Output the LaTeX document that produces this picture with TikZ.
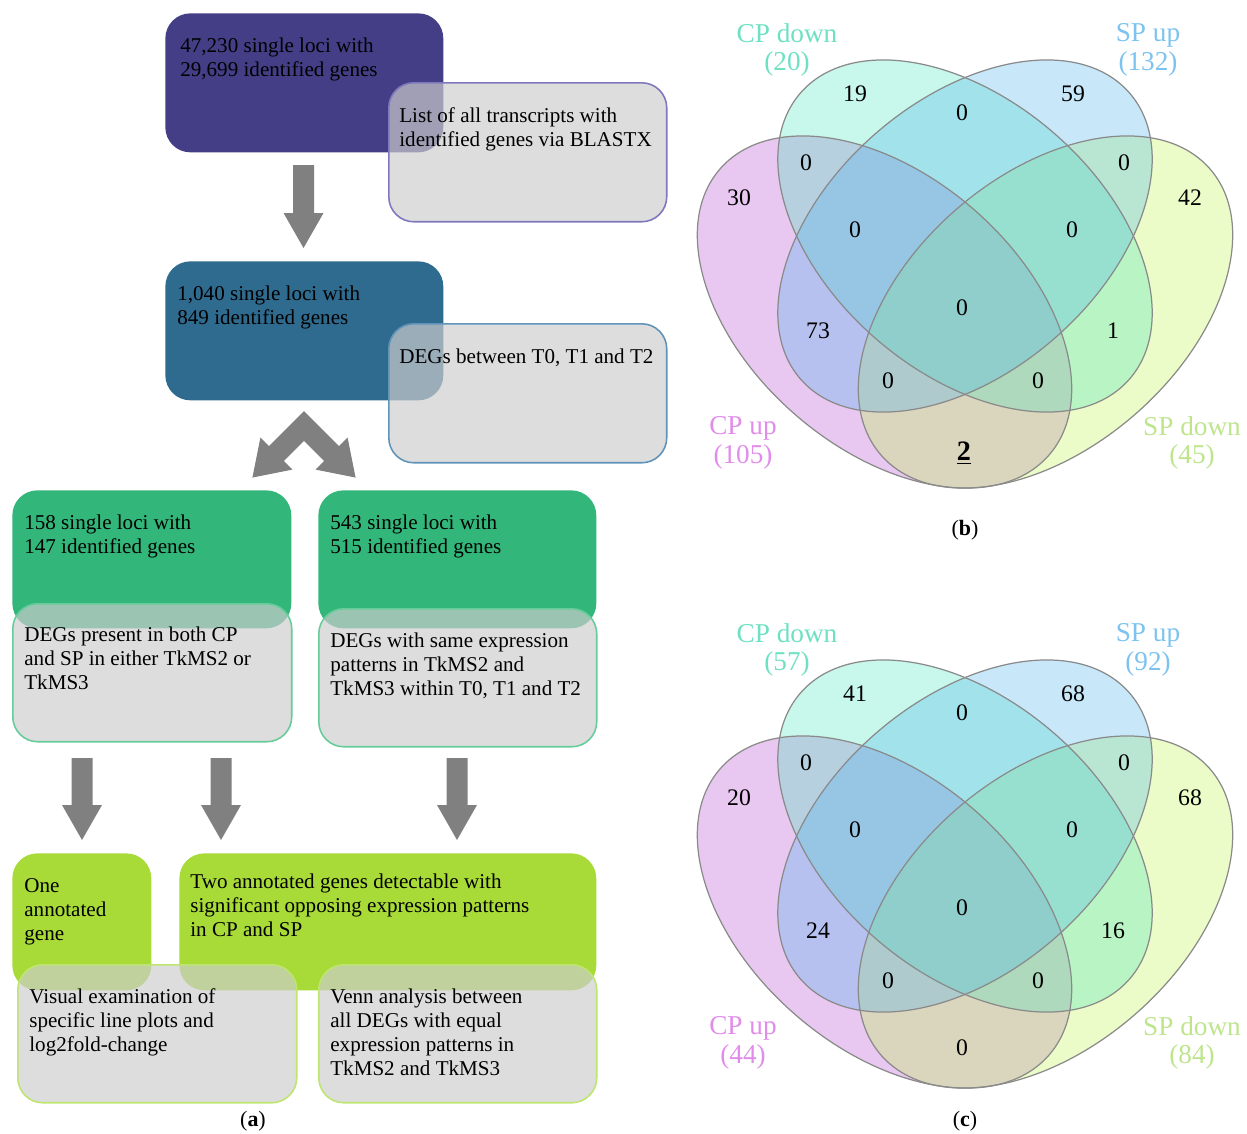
\documentclass[tikz,border=0pt]{standalone}
\usepackage{fontspec}
\setmainfont{Liberation Serif}
\definecolor{purpbox}{HTML}{433E85}
\definecolor{purpline}{HTML}{8078BE}
\definecolor{bluebox}{HTML}{2F6A8F}
\definecolor{blueline}{HTML}{6093B8}
\definecolor{greenbox}{HTML}{33B67A}
\definecolor{greenline}{HTML}{66CC9A}
\definecolor{limebox}{HTML}{A8DA38}
\definecolor{limeline}{HTML}{BDE570}
\definecolor{greyfill}{HTML}{CDCDCD}
\definecolor{arrowgrey}{HTML}{808080}
\definecolor{vmag}{RGB}{178,72,205}
\definecolor{vteal}{RGB}{72,228,188}
\definecolor{vblue}{RGB}{72,178,238}
\definecolor{vgreen}{RGB}{188,245,72}
\definecolor{vline}{HTML}{8A8A8A}
\definecolor{lteal}{HTML}{6EE1C3}
\definecolor{lblue}{HTML}{7DC3F0}
\definecolor{lmag}{HTML}{E18CEB}
\definecolor{lgreen}{HTML}{BEE48C}
\newcommand\blockdn[4]{% cx, top, head start, tip
  \fill[arrowgrey] ({#1-10.5},#2) -- ({#1+10.5},#2) -- ({#1+10.5},#3) -- ({#1+20},#3)
    -- (#1,#4) -- ({#1-20},#3) -- ({#1-10.5},#3) -- cycle;}
\newcommand\oneell[3]{% cx, cy, angle
  \begin{scope}[shift={(#1,#2)}, rotate=#3]
  \path[ellstyle] (0,0) ellipse [x radius=218, y radius=136];
  \end{scope}}
\begin{document}
\begin{tikzpicture}[x=0.02cm,y=-0.02cm,
  box/.style={rounded corners=0.5cm, inner sep=0pt, anchor=north west},
  colbox/.style={box, fill=#1},
  greybox/.style={box, fill=greyfill, fill opacity=0.68, draw=#1, line width=0.9pt},
  body/.style={anchor=base west, inner sep=0pt, font=\fontsize{12}{13.66}\selectfont},
  vnum/.style={inner sep=0pt, font=\fontsize{13.5}{15}\selectfont},
  vlab/.style={inner sep=0pt, align=center, font=\fontsize{15.5}{16.2}\selectfont},
  captxt/.style={inner sep=0pt, font=\fontsize{12.5}{14}\selectfont},
  ellstyle/.style={}]
\useasboundingbox (0,0) rectangle (1247,1133);

% ---------------- panel (a) ----------------
\node[colbox=purpbox, minimum width=5.56cm, minimum height=2.78cm] (b1) at (165,13) {};
\node[greybox=purpline, minimum width=5.56cm, minimum height=2.78cm] (b1g) at (388,82) {};
\node[colbox=bluebox, minimum width=5.56cm, minimum height=2.78cm] (b2) at (165,261) {};
\node[greybox=blueline, minimum width=5.56cm, minimum height=2.78cm] (b2g) at (388,323) {};
\node[colbox=greenbox, minimum width=5.58cm, minimum height=2.76cm] (b3L) at (12,490) {};
\node[greybox=greenline, minimum width=5.58cm, minimum height=2.76cm] (b3Lg) at (12,603) {};
\node[colbox=greenbox, minimum width=5.56cm, minimum height=2.76cm] (b3R) at (318,490) {};
\node[greybox=greenline, minimum width=5.56cm, minimum height=2.76cm] (b3Rg) at (318,608) {};
\node[colbox=limebox, minimum width=2.78cm, minimum height=2.74cm] (b4L) at (12,853) {};
\node[colbox=limebox, minimum width=8.34cm, minimum height=2.74cm] (b4R) at (179,853) {};
\node[greybox=limeline, minimum width=5.58cm, minimum height=2.76cm] (b4Lg) at (17,964) {};
\node[greybox=limeline, minimum width=5.56cm, minimum height=2.76cm] (b4Rg) at (318,964) {};

\node[body] (t1) at (180,52) {\parbox[t]{6cm}{47,230 single loci with\\29,699 identified genes}};
\node[body] (t1g) at (399,122) {\parbox[t]{6cm}{List of all transcripts with\\identified genes via BLASTX}};
\node[body] (t2) at (177,300) {\parbox[t]{6cm}{1,040 single loci with\\849 identified genes}};
\node[body] (t2g) at (399,363) {\parbox[t]{6cm}{DEGs between T0, T1 and T2}};
\node[body] (t3L) at (24,529) {\parbox[t]{6cm}{158 single loci with\\147 identified genes}};
\node[body] (t3Lg) at (24,641) {\parbox[t]{6cm}{DEGs present in both CP\\and SP in either TkMS2 or\\TkMS3}};
\node[body] (t3R) at (330,529) {\parbox[t]{6cm}{543 single loci with\\515 identified genes}};
\node[body] (t3Rg) at (330,647) {\parbox[t]{6cm}{DEGs with same expression\\patterns in TkMS2 and\\TkMS3 within T0, T1 and T2}};
\node[body] (t4L) at (24,892) {\parbox[t]{3cm}{One\\annotated\\gene}};
\node[body] (t4R) at (190,888) {\parbox[t]{9cm}{Two annotated genes detectable with\\significant opposing expression patterns\\in CP and SP}};
\node[body] (t4Lg) at (29,1003) {\parbox[t]{6cm}{Visual examination of\\specific line plots and\\log2fold-change}};
\node[body] (t4Rg) at (330,1003) {\parbox[t]{6cm}{Venn analysis between\\all DEGs with equal\\expression patterns in\\TkMS2 and TkMS3}};

% block arrows
\blockdn{303.5}{165}{213}{248}
\blockdn{82}{758}{805}{840}
\blockdn{221}{758}{805}{840}
\blockdn{457}{758}{805}{840}
\fill[arrowgrey] (304,411.2) -- (269,446.2) -- (260.4,437.6) -- (252.4,477.6) -- (292.4,469.6)
  -- (283.8,461) -- (304,440.8) -- (324.2,461) -- (315.6,469.6) -- (355.6,477.6)
  -- (347.6,437.6) -- (339,446.2) -- cycle;

\node[captxt] (capa) at (253,1121) {(\textbf{a})};

% ---------------- Venn diagrams ----------------
\foreach \dy in {0, 600}{
\begin{scope}[shift={(0,\dy)}]
  \tikzset{ellstyle/.style={fill=vmag, fill opacity=0.3}}
  \oneell{884.5}{312}{-41}
  \tikzset{ellstyle/.style={fill=vgreen, fill opacity=0.3}}
  \oneell{1045.5}{312}{41}
  \tikzset{ellstyle/.style={fill=vteal, fill opacity=0.3}}
  \oneell{965}{236}{-41}
  \tikzset{ellstyle/.style={fill=vblue, fill opacity=0.3}}
  \oneell{965}{236}{41}
  \tikzset{ellstyle/.style={draw=vline, line width=0.7pt}}
  \oneell{965}{236}{-41}
  \oneell{965}{236}{41}
  \oneell{884.5}{312}{-41}
  \oneell{1045.5}{312}{41}
\end{scope}}
\node[captxt] (capb) at (965,530) {(\textbf{b})};
\node[captxt] (capc) at (965,1121) {(\textbf{c})};

% labels and numbers (b)
\node[vlab, text=lteal] (bl1) at (787,50) {CP down\\(20)};
\node[vlab, text=lblue] (bl2) at (1148,50) {SP up\\(132)};
\node[vlab, text=lmag] (bl3) at (743,443) {CP up\\(105)};
\node[vlab, text=lgreen] (bl4) at (1192,443) {SP down\\(45)};
\node[vnum] (bn1) at (855,94) {19};
\node[vnum] (bn2) at (1073,94) {59};
\node[vnum] (bn3) at (962,113) {0};
\node[vnum] (bn4) at (806,163) {0};
\node[vnum] (bn5) at (1124,163) {0};
\node[vnum] (bn6) at (739,198) {30};
\node[vnum] (bn7) at (1190,198) {42};
\node[vnum] (bn8) at (855,230) {0};
\node[vnum] (bn9) at (1072,230) {0};
\node[vnum] (bn10) at (962,308) {0};
\node[vnum] (bn11) at (818,331) {73};
\node[vnum] (bn12) at (1113,331) {1};
\node[vnum] (bn13) at (888,381) {0};
\node[vnum] (bn14) at (1038,381) {0};
\node[vnum, font=\fontsize{16}{18}\selectfont\bfseries] (bn15) at (964,453) {\underline{2}};

% labels and numbers (c)
\node[vlab, text=lteal] (cl1) at (787,650) {CP down\\(57)};
\node[vlab, text=lblue] (cl2) at (1148,650) {SP up\\(92)};
\node[vlab, text=lmag] (cl3) at (743,1043) {CP up\\(44)};
\node[vlab, text=lgreen] (cl4) at (1192,1043) {SP down\\(84)};
\node[vnum] (cn1) at (855,694) {41};
\node[vnum] (cn2) at (1073,694) {68};
\node[vnum] (cn3) at (962,713) {0};
\node[vnum] (cn4) at (806,763) {0};
\node[vnum] (cn5) at (1124,763) {0};
\node[vnum] (cn6) at (739,798) {20};
\node[vnum] (cn7) at (1190,798) {68};
\node[vnum] (cn8) at (855,830) {0};
\node[vnum] (cn9) at (1072,830) {0};
\node[vnum] (cn10) at (962,908) {0};
\node[vnum] (cn11) at (818,931) {24};
\node[vnum] (cn12) at (1113,931) {16};
\node[vnum] (cn13) at (888,981) {0};
\node[vnum] (cn14) at (1038,981) {0};
\node[vnum] (cn15) at (962,1048) {0};
\end{tikzpicture}
\end{document}
